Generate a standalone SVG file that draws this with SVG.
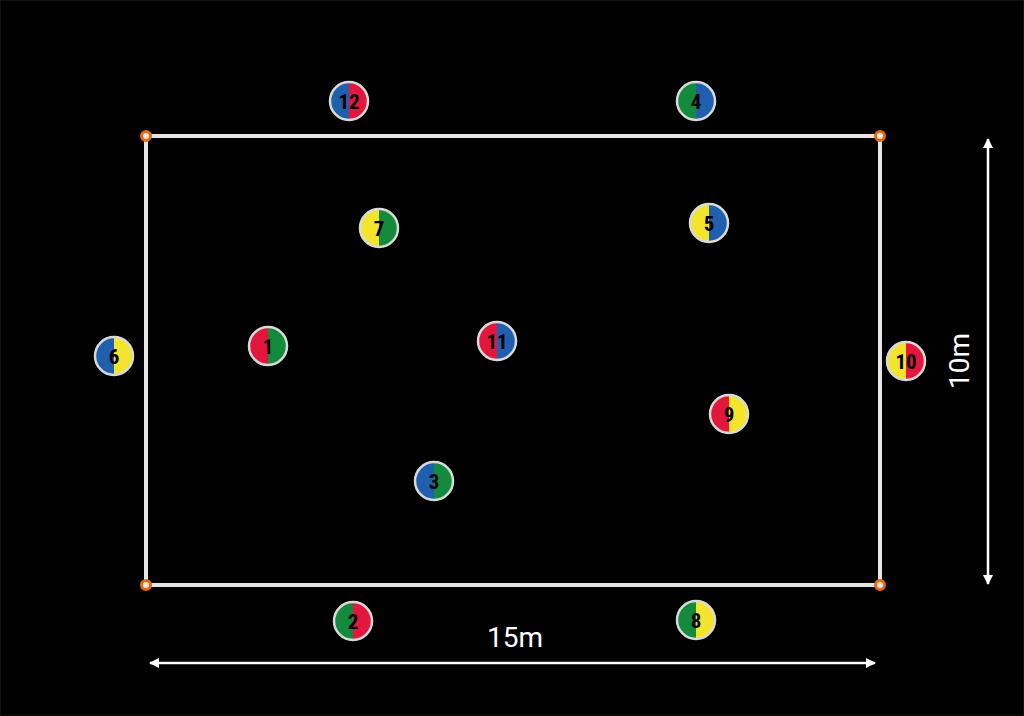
<svg xmlns="http://www.w3.org/2000/svg" width="1024" height="716" viewBox="0 0 1024 716">
<style>
.ring{fill:none;stroke:#d9d9d9;stroke-width:2.5}
.num{font-family:Roboto,"Liberation Sans",sans-serif;font-weight:bold;font-size:21px;fill:#000;text-anchor:middle;dominant-baseline:central;font-stretch:condensed}
.lbl{font-family:Roboto,"Liberation Sans",sans-serif;font-size:28px;fill:#fff;text-anchor:middle}
.B{fill:#1f5fad}.R{fill:#e3173e}.G{fill:#138a3c}.Y{fill:#f4e42b}
</style>
<defs>
<marker id="ah2" viewBox="0 0 10 10" refX="9" refY="5" markerWidth="10" markerHeight="10" orient="auto-start-reverse" markerUnits="userSpaceOnUse">
<path d="M0,0 L10,5 L0,10 z" fill="#fff"/>
</marker>
</defs>
<rect x="0" y="0" width="1024" height="716" fill="#000" stroke="#222" stroke-width="1"/>
<g id="field">
<rect x="146" y="136" width="734" height="449" fill="none" stroke="#e6e6e6" stroke-width="4"/>
<g fill="#e8e8e8" stroke="#e86a0c" stroke-width="3">
<circle cx="146" cy="136" r="4.5"/><circle cx="880" cy="136" r="4.5"/><circle cx="146" cy="585" r="4.5"/><circle cx="880" cy="585" r="4.5"/>
</g>
</g>
<g id="connectors" stroke="#fff" stroke-width="2.5" fill="none">
<line x1="150" y1="663" x2="875" y2="663" marker-start="url(#ah2)" marker-end="url(#ah2)"/>
<line x1="988" y1="139" x2="988" y2="584" marker-start="url(#ah2)" marker-end="url(#ah2)"/>
</g>
<text class="lbl" x="515" y="647">15m</text>
<text class="lbl" transform="translate(969,361) rotate(-90)">10m</text>
<g id="n12" transform="translate(349,101)"><path class="B" d="M0,-19 A19,19 0 0 0 0,19 z"/><path class="R" d="M0,-19 A19,19 0 0 1 0,19 z"/><circle class="ring" r="19"/><text class="num" y="1">12</text></g>
<g id="n4" transform="translate(696,101)"><path class="G" d="M0,-19 A19,19 0 0 0 0,19 z"/><path class="B" d="M0,-19 A19,19 0 0 1 0,19 z"/><circle class="ring" r="19"/><text class="num" y="1">4</text></g>
<g id="n7" transform="translate(379,228)"><path class="Y" d="M0,-19 A19,19 0 0 0 0,19 z"/><path class="G" d="M0,-19 A19,19 0 0 1 0,19 z"/><circle class="ring" r="19"/><text class="num" y="1">7</text></g>
<g id="n5" transform="translate(709,223)"><path class="Y" d="M0,-19 A19,19 0 0 0 0,19 z"/><path class="B" d="M0,-19 A19,19 0 0 1 0,19 z"/><circle class="ring" r="19"/><text class="num" y="1">5</text></g>
<g id="n6" transform="translate(114,356)"><path class="B" d="M0,-19 A19,19 0 0 0 0,19 z"/><path class="Y" d="M0,-19 A19,19 0 0 1 0,19 z"/><circle class="ring" r="19"/><text class="num" y="1">6</text></g>
<g id="n1" transform="translate(268,346)"><path class="R" d="M0,-19 A19,19 0 0 0 0,19 z"/><path class="G" d="M0,-19 A19,19 0 0 1 0,19 z"/><circle class="ring" r="19"/><text class="num" y="1">1</text></g>
<g id="n11" transform="translate(497,341)"><path class="R" d="M0,-19 A19,19 0 0 0 0,19 z"/><path class="B" d="M0,-19 A19,19 0 0 1 0,19 z"/><circle class="ring" r="19"/><text class="num" y="1">11</text></g>
<g id="n10" transform="translate(906,361)"><path class="Y" d="M0,-19 A19,19 0 0 0 0,19 z"/><path class="R" d="M0,-19 A19,19 0 0 1 0,19 z"/><circle class="ring" r="19"/><text class="num" y="1">10</text></g>
<g id="n9" transform="translate(729,414)"><path class="R" d="M0,-19 A19,19 0 0 0 0,19 z"/><path class="Y" d="M0,-19 A19,19 0 0 1 0,19 z"/><circle class="ring" r="19"/><text class="num" y="1">9</text></g>
<g id="n3" transform="translate(434,481)"><path class="B" d="M0,-19 A19,19 0 0 0 0,19 z"/><path class="G" d="M0,-19 A19,19 0 0 1 0,19 z"/><circle class="ring" r="19"/><text class="num" y="1">3</text></g>
<g id="n2" transform="translate(353,621)"><path class="G" d="M0,-19 A19,19 0 0 0 0,19 z"/><path class="R" d="M0,-19 A19,19 0 0 1 0,19 z"/><circle class="ring" r="19"/><text class="num" y="1">2</text></g>
<g id="n8" transform="translate(696,620)"><path class="G" d="M0,-19 A19,19 0 0 0 0,19 z"/><path class="Y" d="M0,-19 A19,19 0 0 1 0,19 z"/><circle class="ring" r="19"/><text class="num" y="1">8</text></g>
</svg>
